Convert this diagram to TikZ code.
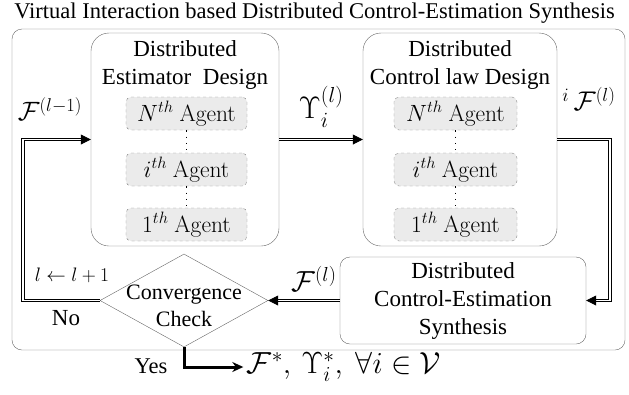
\RequirePackage{fix-cm}
\documentclass[tikz,border=0pt]{standalone}
\usepackage[no-math]{fontspec}
\setmainfont{Liberation Serif}
\usepackage{amsmath,amssymb}
\usetikzlibrary{shapes.geometric,arrows.meta}
\tikzset{
  blk/.style={draw=black!60, rounded corners=18pt, minimum width=#1, minimum height=213pt},
  agent/.style={draw=black!45, dashed, fill=black!8, rounded corners=5pt, minimum height=33pt, inner sep=0pt},
  dbl/.style={double, double distance=1.6pt, line width=0.8pt, -{Triangle[length=10pt,width=10pt]}},
  ttl/.style={align=center, font=\fontsize{23}{28.5}\selectfont},
}
\newcommand{\agt}[1]{\fontsize{23.5}{26}\selectfont$#1\ \mathrm{Agent}$}
\begin{document}
\begin{tikzpicture}[x=1pt, y=-1pt]
    \useasboundingbox (0,0) rectangle (629,394);
    \node (title) at (314.5,13) {\fontsize{22.5}{24}\selectfont Virtual Interaction based Distributed Control-Estimation Synthesis};
    \draw[black!60, rounded corners=10pt] (12,29) rectangle (625,350);
    % design blocks
    \node[blk=188pt] (est) at (185,139.5) {};
    \node[blk=194pt] (ctl) at (460,139.5) {};
    \node[ttl] (estT) at (185,65) {Distributed\\Estimator~~Design};
    \node[ttl] (ctlT) at (460,65) {Distributed\\Control law Design};
    \foreach \b/\x/\w in {e/186.5/121pt, c/455.5/123pt}{
        \node[agent, minimum width=\w] (\b N) at (\x,113.5) {\agt{N^{th}}};
        \node[agent, minimum width=\w] (\b i) at (\x,169.5) {\agt{i^{th}}};
        \node[agent, minimum width=\w] (\b 1) at (\x,224.5) {\agt{1^{th}}};
        \draw[line width=1.3pt, dash pattern=on 1.3pt off 5pt] (\b N.south) -- (\b i.north);
        \draw[line width=1.3pt, dash pattern=on 1.3pt off 5pt] (\b i.south) -- (\b 1.north);
    }
    % synthesis and check
    \node[draw=black!60, rounded corners=10pt, minimum width=246pt, minimum height=87pt, ttl, font=\fontsize{23}{28}\selectfont] (syn) at (463,300.5) {Distributed\\Control-Estimation\\Synthesis};
    \node[draw=black!60, diamond, minimum width=168pt, minimum height=93pt, inner sep=0pt] (conv) at (184,300.5) {};
    \node[ttl, font=\fontsize{22}{27}\selectfont] (convT) at (184,306) {Convergence\\Check};
    \coordinate (rc) at (610,200);
    \coordinate (lc) at (23,200);
    \draw[dbl] (est.east) -- (ctl.west);
    \draw[dbl] (ctl.east) -- (ctl.east -| rc) -- (syn.east -| rc) -- (syn.east);
    \draw[dbl] (syn.west) -- (conv.east);
    \draw[dbl] (conv.west) -- (conv.west -| lc) -- (est.west -| lc) -- (est.west);
    \node (res) at (344,367) {\fontsize{30.5}{32}\selectfont$\mathcal{F}^{*},\,\Upsilon_i^{*},\ \forall i\in\mathcal{V}$};
    \draw[line width=3pt, -{Stealth[length=11pt,width=10pt]}] (conv.south) |- (res.west);
    % labels
    \node (lUp) at (321,107) {\fontsize{31}{33}\selectfont$\Upsilon_i^{(l)}$};
    \node (lFi) at (589,99) {\fontsize{27}{29}\selectfont${}^{i}\,\mathcal{F}^{(l)}$};
    \node (lFm) at (50,109) {\fontsize{26.5}{29}\selectfont$\mathcal{F}^{(l-1)}$};
    \node (lF) at (314,279) {\fontsize{29}{31}\selectfont$\mathcal{F}^{(l)}$};
    \node (lInc) at (72,275) {\fontsize{19.5}{22}\selectfont$l\leftarrow l+1$};
    \node (lNo) at (66,318) {\fontsize{23}{24}\selectfont No};
    \node (lYes) at (151,366) {\fontsize{22.5}{24}\selectfont Yes};
\end{tikzpicture}
\end{document}
